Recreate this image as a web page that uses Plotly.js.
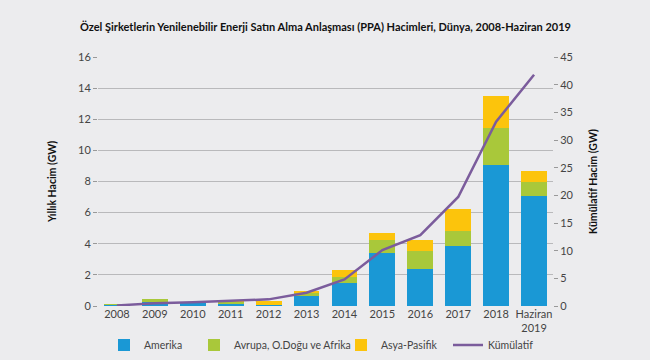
<!DOCTYPE html>
<html>
<head>
<meta charset="utf-8">
<script src="https://cdn.plot.ly/plotly-3.0.1.min.js"></script>
<style>html,body{margin:0;padding:0;background:#ececee;}</style>
</head>
<body>
<div id="chart" style="width:650px;height:360px;"></div>
<script>
const categories = ["2008","2009","2010","2011","2012","2013","2014","2015","2016","2017","2018","Haziran<br>2019"];
const amerika = [0.05,0.28,0.2,0.15,0.05,0.64,1.5,3.39,2.38,3.83,9.06,7.09];
const avrupa  = [0.1,0.17,0.0,0.1,0.0,0.17,0.38,0.83,1.15,1.01,2.36,0.9];
const asya    = [0.0,0.0,0.0,0.05,0.25,0.17,0.43,0.49,0.71,1.39,2.08,0.71];
const kumulatif = [0.1,0.5,0.7,0.9,1.2,2.4,4.8,10.1,12.8,19.7,33.3,41.8];
const seriesNames = ["Amerika","Avrupa, O.Doğu ve Afrika","Asya-Pasifik","Kümülatif"];
const axisTitles = ["Yıllık Hacim (GW)","Kümülatif Hacim (GW)"];

const font = "Lato, 'Noto Sans', sans-serif";
const traces = [
  {type:'bar', name:seriesNames[0], x:categories, y:amerika, marker:{color:'#1a98d5'}, legend:'legend'},
  {type:'bar', name:seriesNames[1], x:categories, y:avrupa, marker:{color:'#a9c83a'}, legend:'legend2'},
  {type:'bar', name:seriesNames[2], x:categories, y:asya, marker:{color:'#fcc40c'}, legend:'legend3'},
  {type:'scatter', mode:'lines', name:seriesNames[3], x:categories, y:kumulatif, yaxis:'y2', line:{color:'#7b5c9c', width:2.5}, legend:'legend4'}
];
function leg(px){
  return {xref:'container', yref:'container', x:px/650, xanchor:'left', y:1-345/360, yanchor:'middle',
          bgcolor:'rgba(0,0,0,0)', font:{size:10.5, color:'#444'}, itemwidth:30};
}
const W = 650, H = 360, L = 98, R = 97, T = 57, B = 54;
const pw = W - L - R, ph = H - T - B;
const layout = {
  width:W, height:H,
  paper_bgcolor:'#ececee', plot_bgcolor:'#ececee',
  barmode:'stack', bargap:0.32,
  margin:{l:L, r:R, t:T, b:B, autoexpand:false},
  font:{family:font, size:10, color:'#444'},
  title:{text:'<b>Özel Şirketlerin Yenilenebilir Enerji Satın Alma Anlaşması (PPA) Hacimleri, Dünya, 2008-Haziran 2019</b>',
         x:0.5, xanchor:'center', xref:'paper', y:0.925, yanchor:'middle', font:{family:font, size:11, color:'#111'}},
  xaxis:{type:'category', tickfont:{size:11, color:'#444'}, showgrid:false, zeroline:false, ticks:'', ticklen:0},
  yaxis:{range:[0,16], dtick:2, gridcolor:'#b9b9bb', gridwidth:1, zeroline:false, ticks:'outside', ticklen:4, tickcolor:'#999',
         tickfont:{size:11, color:'#444'}},
  yaxis2:{range:[0,45], dtick:5, overlaying:'y', side:'right', showgrid:false, zeroline:false, ticks:'outside', ticklen:4, tickcolor:'#999',
          tickfont:{size:11, color:'#444'}},
  annotations:[
    {text:'<b>'+axisTitles[0]+'</b>', textangle:-90, xref:'paper', yref:'paper', x:(52-L)/pw, y:(H-B-182)/ph,
     xanchor:'center', yanchor:'middle', showarrow:false, font:{family:font, size:10.5, color:'#111'}},
    {text:'<b>'+axisTitles[1]+'</b>', textangle:-90, xref:'paper', yref:'paper', x:(593-L)/pw, y:(H-B-182)/ph,
     xanchor:'center', yanchor:'middle', showarrow:false, font:{family:font, size:10.5, color:'#111'}}
  ],
  legend:leg(104), legend2:leg(194), legend3:leg(341), legend4:leg(448),
  showlegend:true
};
Plotly.newPlot('chart', traces, layout, {displayModeBar:false, staticPlot:true});
</script>
</body>
</html>
